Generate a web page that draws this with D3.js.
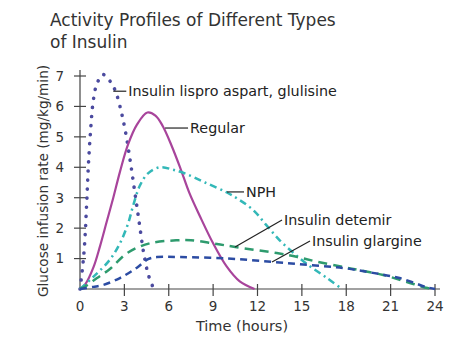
<!DOCTYPE html>
<html>
<head>
<meta charset="utf-8">
<script src="https://cdn.jsdelivr.net/npm/d3@7"></script>
<style>
  body { margin: 0; background: #fff; }
  svg { font-family: "DejaVu Sans", Verdana, sans-serif; }
</style>
</head>
<body>
<div id="chart"></div>
<script>
(function () {

  // Values (hours, mg/kg/min)
  const lispro = [[0,0],[0.15,0.6],[0.3,1.4],[0.45,2.8],[0.55,3.9],[0.7,5.1],[0.9,6.2],[1.15,6.75],[1.55,7.05],[2.0,6.85],[2.4,6.5],[2.8,5.8],[3.1,5.1],[3.4,4.2],[3.7,3.2],[4.0,2.2],[4.3,1.2],[4.6,0.5],[4.9,0.1],[5.0,0]]
  const regular = [[0,0],[0.35,0.15],[0.9,0.7],[1.35,1.4],[1.8,2.2],[2.25,3.0],[2.7,3.85],[3.25,4.75],[3.85,5.4],[4.55,5.8],[5.1,5.7],[5.6,5.35],[6.2,4.7],[6.8,3.95],[7.4,3.15],[8.1,2.4],[9.0,1.5],[9.9,0.75],[10.8,0.25],[11.8,0]]
  const nph = [[0,0],[0.9,0.4],[2.0,0.95],[2.7,1.5],[3.25,2.15],[3.6,2.75],[4.05,3.4],[4.6,3.8],[5.4,4.0],[6.3,3.92],[7.2,3.78],[8.45,3.5],[9.9,3.18],[10.7,2.95],[11.7,2.6],[12.6,2.1],[13.5,1.6],[14.4,1.2],[15.4,0.8],[16.7,0.36],[17.7,0]]
  const detemir = [[0,0],[0.4,0.1],[1.15,0.36],[2,0.65],[3.25,1.2],[4.7,1.5],[6.5,1.6],[7.5,1.6],[9,1.5],[10.5,1.38],[13.3,1.18],[14.7,1.05],[16,0.9],[17.8,0.72],[18.9,0.62],[20.5,0.46],[22.1,0.23],[23.5,0.03],[24,0]]
  const glargine = [[0,0],[0.9,0.07],[1.55,0.13],[2.7,0.36],[3.85,0.7],[4.6,0.98],[5.2,1.05],[6.8,1.05],[10,1.0],[13,0.89],[15.5,0.79],[17.8,0.69],[19.8,0.53],[21.6,0.36],[23.5,0.05],[24,0]]

  const xTicks = [0,3,6,9,12,15,18,21,24]
  const yTicks = [1,2,3,4,5,6,7]

  // Series styling + label placement (anchor on curve in data units)
  const series = [
    { name: "Insulin lispro aspart, glulisine", values: lispro, color: "#4b4a9f", width: 3.6, dash: "0.1 9", cap: "round", at: [2.25, 6.5], dx: 13, dy: 0 },
    { name: "Regular", values: regular, color: "#a8449b", width: 2.2, dash: null, cap: "butt", at: [5.75, 5.29], dx: 23, dy: 0 },
    { name: "NPH", values: nph, color: "#33b8b8", width: 2.5, dash: "7 4 2 4", cap: "butt", at: [9.94, 3.19], dx: 17, dy: 0 },
    { name: "Insulin detemir", values: detemir, color: "#2e9b6e", width: 2.5, dash: "9 6", cap: "butt", at: [10.48, 1.38], dx: 47, dy: -27 },
    { name: "Insulin glargine", values: glargine, color: "#2c4ca3", width: 2.5, dash: "7 5", cap: "butt", at: [12.98, 0.89], dx: 38, dy: -21 }
  ]

  const svg = d3.select("#chart").append("svg")
      .attr("width", 471)
      .attr("height", 351)

  const x = d3.scaleLinear().domain([0, 24]).range([80, 435])
  const y = d3.scaleLinear().domain([0, 7]).range([289, 76])

  // Title
  svg.append("text")
    .attr("x", 50).attr("y", 26)
    .style("font-size", "17px").attr("fill", "#333")
    .text("Activity Profiles of Different Types")
  svg.append("text")
    .attr("x", 50).attr("y", 48)
    .style("font-size", "17px").attr("fill", "#333")
    .text("of Insulin")

  // Axes lines
  const axisColor = "#444"
  svg.append("line")
    .attr("x1", x(0)).attr("x2", x(0))
    .attr("y1", y(0)).attr("y2", y(7) - 6)
    .attr("stroke", axisColor).attr("stroke-width", 1.2)
  svg.append("line")
    .attr("x1", x(0)).attr("x2", x(24) + 5)
    .attr("y1", y(0)).attr("y2", y(0))
    .attr("stroke", axisColor).attr("stroke-width", 1.2)

  // y ticks
  svg.selectAll(".ytick")
    .data(yTicks)
    .join("line")
    .attr("class", "ytick")
    .attr("x1", x(0) - 6).attr("x2", x(0) + 6)
    .attr("y1", d => y(d)).attr("y2", d => y(d))
    .attr("stroke", axisColor).attr("stroke-width", 1.2)
  svg.selectAll(".ylab")
    .data(yTicks)
    .join("text")
    .attr("class", "ylab")
    .attr("x", x(0) - 16)
    .attr("y", d => y(d))
    .attr("dy", "0.36em")
    .attr("text-anchor", "end")
    .style("font-size", "13.5px").attr("fill", "#333")
    .text(d => d)

  // x ticks
  svg.selectAll(".xtick")
    .data(xTicks.filter(d => d > 0))
    .join("line")
    .attr("class", "xtick")
    .attr("x1", d => x(d)).attr("x2", d => x(d))
    .attr("y1", y(0) - 5).attr("y2", y(0) + 7)
    .attr("stroke", axisColor).attr("stroke-width", 1.2)
  svg.selectAll(".xlab")
    .data(xTicks)
    .join("text")
    .attr("class", "xlab")
    .attr("x", d => x(d))
    .attr("y", 311)
    .attr("text-anchor", "middle")
    .style("font-size", "13.5px").attr("fill", "#333")
    .text(d => d)

  // Axis titles
  svg.append("text")
    .attr("x", 242).attr("y", 331)
    .attr("text-anchor", "middle")
    .style("font-size", "14.5px").attr("fill", "#333")
    .text("Time (hours)")
  svg.append("text")
    .attr("transform", "translate(48,181) rotate(-90)")
    .attr("text-anchor", "middle")
    .style("font-size", "13.6px").attr("fill", "#333")
    .text("Glucose infusion rate (mg/kg/min)")

  // Curves
  const line = d3.line()
    .x(d => x(d[0]))
    .y(d => y(d[1]))
    .curve(d3.curveCatmullRom.alpha(0.5))

  svg.selectAll(".curve")
    .data(series)
    .join("path")
    .attr("class", "curve")
    .attr("d", d => line(d.values))
    .attr("fill", "none")
    .attr("stroke", d => d.color)
    .attr("stroke-width", d => d.width)
    .attr("stroke-linecap", d => d.cap)
    .attr("stroke-dasharray", d => d.dash)

  // Leader lines and labels
  const ann = svg.selectAll(".ann")
    .data(series)
    .join("g")
    .attr("class", "ann")
    .attr("transform", d => `translate(${x(d.at[0])},${y(d.at[1])})`)
  ann.append("line")
    .attr("x1", 0).attr("y1", 0)
    .attr("x2", d => d.dx).attr("y2", d => d.dy)
    .attr("stroke", "#222").attr("stroke-width", 1.2)
  ann.append("text")
    .attr("x", d => d.dx + 2)
    .attr("y", d => d.dy)
    .attr("dy", "0.36em")
    .style("font-size", "14.3px").attr("fill", "#222")
    .text(d => d.name)

})();
</script>
</body>
</html>
